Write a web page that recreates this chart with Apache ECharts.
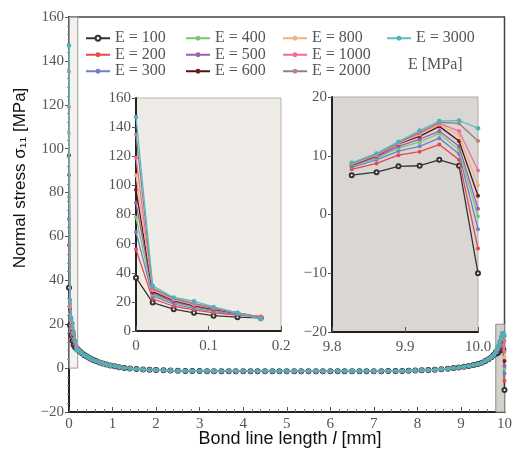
<!DOCTYPE html>
<html><head><meta charset="utf-8">
<script src="https://cdn.jsdelivr.net/npm/echarts@6/dist/echarts.min.js"></script>
<style>html,body{margin:0;padding:0;background:#fff}#c{width:515px;height:455px}</style>
</head><body><div id="c"></div>
<script>
const names = ['E = 100','E = 200','E = 300','E = 400','E = 500','E = 600','E = 800','E = 1000','E = 2000','E = 3000'];

// left end of bond line (inset 1)
const xLeft = [0, 0.023, 0.052, 0.08, 0.107, 0.14, 0.172];
const left100  = [36.6, 19.5, 15.0, 12.5, 10.5, 9.5, 9.0];
const left200  = [56, 22.0, 17.0, 14.5, 12.5, 11.0, 10.0];
const left300  = [68, 24.0, 18.5, 15.5, 13.5, 11.5, 9.5];
const left400  = [78, 25.0, 19.5, 16.5, 14.0, 12.0, 9.5];
const left500  = [88, 26.0, 20.0, 17.0, 14.5, 12.0, 9.5];
const left600  = [97, 27.0, 21.0, 17.5, 15.0, 12.5, 9.5];
const left800  = [107, 28.0, 21.5, 18.0, 15.5, 12.5, 9.5];
const left1000 = [119, 28.5, 22.0, 18.5, 15.5, 12.5, 9.5];
const left2000 = [135, 29.5, 22.5, 19.0, 16.0, 12.5, 9.0];
const left3000 = [147, 31.0, 23.0, 20.5, 16.5, 12.5, 8.0];

// middle of bond line (all curves nearly coincide)
const xMid = [0.2, 0.25, 0.3, 0.35, 0.4, 0.45, 0.5, 0.56, 0.62, 0.7, 0.78, 0.86, 0.95, 1.05, 1.15, 1.27, 1.4, 1.55, 1.7, 1.85,
  2.0, 2.17, 2.33, 2.5, 2.67, 2.83, 3.0, 3.17, 3.33, 3.5, 3.67, 3.83, 4.0, 4.17, 4.33, 4.5, 4.67, 4.83, 5.0, 5.17,
  5.33, 5.5, 5.67, 5.83, 6.0, 6.17, 6.33, 6.5, 6.67, 6.83, 7.0, 7.17, 7.33, 7.5, 7.65, 7.8, 7.95, 8.1, 8.25, 8.4,
  8.55, 8.7, 8.83, 8.95, 9.07, 9.18, 9.29, 9.39, 9.48, 9.56, 9.63, 9.7, 9.75, 9.8];
const yMid = [8.6, 7.6, 6.8, 6.0, 5.4, 4.8, 4.3, 3.7, 3.2, 2.6, 2.1, 1.6, 1.2, 0.8, 0.4, 0.1, -0.2, -0.4, -0.6, -0.8,
  -0.9, -1.0, -1.1, -1.2, -1.3, -1.3, -1.3, -1.4, -1.4, -1.4, -1.4, -1.4, -1.4, -1.4, -1.4, -1.4, -1.4, -1.4, -1.4, -1.4,
  -1.4, -1.4, -1.4, -1.4, -1.4, -1.4, -1.4, -1.4, -1.4, -1.4, -1.4, -1.4, -1.3, -1.3, -1.3, -1.2, -1.1, -1.0, -0.9, -0.7,
  -0.5, -0.3, 0.0, 0.3, 0.6, 1.0, 1.4, 1.9, 2.5, 3.2, 4.0, 5.0, 6.0, 7.2];

// right end of bond line (inset 2)
const xRight = [9.827, 9.861, 9.891, 9.92, 9.947, 9.974, 10.0];
const right100  = [6.7, 7.2, 8.2, 8.3, 9.3, 8.3, -10.0];
const right200  = [7.7, 8.7, 10.1, 10.7, 11.9, 9.3, -5.8];
const right300  = [8.0, 9.3, 10.8, 11.6, 13.0, 10.3, -2.5];
const right400  = [8.2, 9.6, 11.3, 12.3, 13.8, 11.0, -0.3];
const right500  = [8.3, 9.8, 11.6, 12.8, 14.2, 11.6, 1.0];
const right600  = [8.4, 10.0, 12.0, 13.3, 15.0, 12.5, 3.2];
const right800  = [8.5, 10.1, 12.1, 13.6, 15.3, 13.5, 5.0];
const right1000 = [8.6, 10.2, 12.2, 13.8, 15.5, 14.2, 7.5];
const right2000 = [8.7, 10.3, 12.3, 14.0, 15.7, 15.5, 12.5];
const right3000 = [8.8, 10.4, 12.4, 14.3, 15.9, 16.0, 14.7];

const mainYTicks = [-20, 0, 20, 40, 60, 80, 100, 120, 140, 160];

const lefts = [left100, left200, left300, left400, left500, left600, left800, left1000, left2000, left3000];
const rights = [right100, right200, right300, right400, right500, right600, right800, right1000, right2000, right3000];
const lineColors = ['#333333', '#e8474b', '#6f7fcc', '#78c96c', '#9b5db3', '#4a1414', '#f2b17f', '#ef6c9c', '#8c8383', '#5bbcc6'];
const markColors = ['#333333', '#e8474b', '#6f7fcc', '#78c96c', '#9b5db3', '#7a1a1a', '#f2b17f', '#ef6c9c', '#c97a86', '#4fb0bb'];

const serif = '"Liberation Serif", "DejaVu Serif", serif';
const sans = '"Liberation Sans", Arial, sans-serif';
const fmtNum = v => String(v).replace('-', '\u2212');

const series = [];
names.forEach((nm, i) => {
  const L = xLeft.map((x, k) => [x, lefts[i][k]]);
  const M = xMid.map((x, k) => [x, yMid[k]]);
  const R = xRight.map((x, k) => [x, rights[i][k]]);
  const base = {
    type: 'line', name: nm,
    symbol: i === 0 ? 'emptyCircle' : 'circle',
    symbolSize: i === 0 ? 4 : (i === 9 ? 4.5 : 4),
    showSymbol: true,
    lineStyle: { color: lineColors[i], width: 1.3 },
    itemStyle: { color: markColors[i], borderColor: i === 0 ? '#333' : markColors[i], borderWidth: i === 0 ? 0.8 : 0 },
    emphasis: { disabled: true },
    silent: true,
    z: 3 + i
  };
  const mainS = Object.assign({}, base, { xAxisIndex: 0, yAxisIndex: 0, data: L.concat(M, R), clip: true });
  if (i === 0) {
    mainS.markArea = {
      silent: true,
      data: [
        [{ coord: [0, 0], itemStyle: { color: 'rgba(236,233,229,0.6)', borderColor: '#9a9a9a', borderWidth: 1 } }, { coord: [0.2, 160] }],
        [{ coord: [9.8, -20], itemStyle: { color: '#d4d0cc', borderColor: '#8a8a8a', borderWidth: 1 } }, { coord: [10, 20] }]
      ]
    };
  }
  series.push(mainS);
  series.push(Object.assign({}, base, { xAxisIndex: 1, yAxisIndex: 1, data: L }));
  series.push(Object.assign({}, base, { xAxisIndex: 2, yAxisIndex: 2, data: R }));
});

const axisLabelStyle = { fontFamily: serif, fontSize: 15, color: '#555' };

const legendBase = {
  orient: 'vertical', top: 25, itemGap: 0, itemWidth: 24, itemHeight: 6,
  textStyle: { fontFamily: serif, fontSize: 16, color: '#555', lineHeight: 16.5 },
  selectedMode: false
};

const option = {
  animation: false,
  backgroundColor: '#fff',
  grid: [
    { left: 69, top: 17, width: 438, height: 395, show: true, borderColor: '#444', borderWidth: 1.5, backgroundColor: '#fff' },
    { left: 136, top: 98, width: 145, height: 233, show: true, borderColor: '#b8b5b2', borderWidth: 1, backgroundColor: '#efebe7' },
    { left: 332, top: 97, width: 146, height: 235, show: true, borderColor: '#b0adaa', borderWidth: 1, backgroundColor: '#d9d6d3' }
  ],
  xAxis: [
    { gridIndex: 0, type: 'value', min: 0, max: 10, interval: 1,
      axisLine: { onZero: false, lineStyle: { color: '#222', width: 2 } },
      axisTick: { inside: true, length: 5, lineStyle: { color: '#555' } },
      minorTick: { show: true, splitNumber: 5, length: 3, lineStyle: { color: '#777' } },
      splitLine: { show: false },
      axisLabel: Object.assign({ margin: 5, formatter: v => fmtNum(v) }, axisLabelStyle) },
    { gridIndex: 1, type: 'value', min: 0, max: 0.2, interval: 0.1,
      axisLine: { onZero: false, lineStyle: { color: '#222', width: 2 } },
      axisTick: { inside: true, length: 5, lineStyle: { color: '#555' } },
      splitLine: { show: false },
      axisLabel: Object.assign({ margin: 8, formatter: v => (v === 0 ? '0' : v.toFixed(1)) }, axisLabelStyle) },
    { gridIndex: 2, type: 'value', min: 9.8, max: 10.0, interval: 0.1,
      axisLine: { onZero: false, lineStyle: { color: '#222', width: 2 } },
      axisTick: { inside: true, length: 5, lineStyle: { color: '#555' } },
      splitLine: { show: false },
      axisLabel: Object.assign({ margin: 8, formatter: v => v.toFixed(1) }, axisLabelStyle) }
  ],
  yAxis: [
    { gridIndex: 0, type: 'value', min: mainYTicks[0], max: mainYTicks[mainYTicks.length - 1], interval: 20,
      axisLine: { show: true, onZero: false, lineStyle: { color: '#222', width: 2 } },
      axisTick: { show: true, inside: false, length: 4, lineStyle: { color: '#555' } },
      minorTick: { show: true, splitNumber: 5, length: 2, lineStyle: { color: '#888' } },
      splitLine: { show: false },
      axisLabel: Object.assign({ margin: 5, formatter: v => fmtNum(v) }, axisLabelStyle) },
    { gridIndex: 1, type: 'value', min: 0, max: 160, interval: 20,
      axisLine: { show: true, onZero: false, lineStyle: { color: '#222', width: 2 } },
      axisTick: { show: true, inside: false, length: 4, lineStyle: { color: '#555' } },
      splitLine: { show: false },
      axisLabel: Object.assign({ margin: 5, formatter: v => fmtNum(v) }, axisLabelStyle) },
    { gridIndex: 2, type: 'value', min: -20, max: 20, interval: 10,
      axisLine: { show: true, onZero: false, lineStyle: { color: '#222', width: 2 } },
      axisTick: { show: true, inside: false, length: 4, lineStyle: { color: '#555' } },
      splitLine: { show: false },
      axisLabel: Object.assign({ margin: 5, formatter: v => fmtNum(v) }, axisLabelStyle) }
  ],
  legend: [
    Object.assign({}, legendBase, { left: 80, data: names.slice(0, 3) }),
    Object.assign({}, legendBase, { left: 180, data: names.slice(3, 6) }),
    Object.assign({}, legendBase, { left: 277, data: names.slice(6, 9) }),
    Object.assign({}, legendBase, { left: 381, data: names.slice(9, 10) })
  ],
  graphic: [
    { type: 'text', left: 408, top: 57, style: { text: 'E [MPa]', fontFamily: serif, fontSize: 16, fill: '#555' } },
    { type: 'text', x: 20, y: 178, rotation: Math.PI / 2,
      style: { text: 'Normal stress \u03c3\u2081\u2081 [MPa]', fontFamily: sans, fontSize: 17, fill: '#111', align: 'center', verticalAlign: 'middle' } },
    { type: 'text', x: 290, y: 439,
      style: { text: 'Bond line length {i|l} [mm]', fontFamily: sans, fontSize: 18, fill: '#111', align: 'center', verticalAlign: 'middle',
        rich: { i: { fontStyle: 'italic', fontFamily: sans, fontSize: 18, fill: '#111' } } } }
  ],
  series: series
};

const chart = echarts.init(document.getElementById('c'), null, { renderer: 'canvas' });
chart.setOption(option);
</script>
</body></html>
